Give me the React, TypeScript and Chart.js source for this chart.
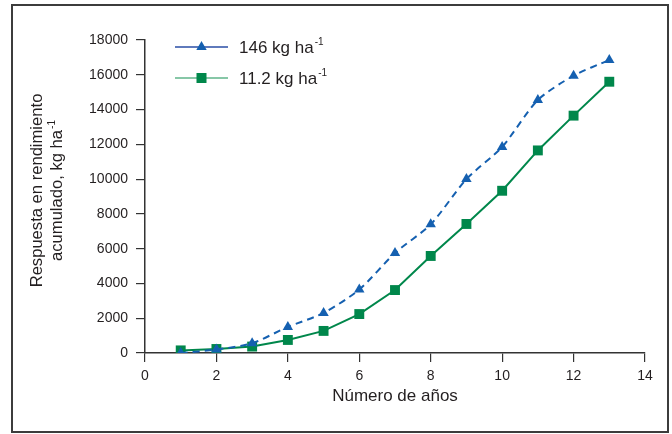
import React, { useEffect, useRef } from "react";
import { Chart, registerables } from "chart.js";

Chart.register(...registerables);

const years = [1, 2, 3, 4, 5, 6, 7, 8, 9, 10, 11, 12, 13];
const dose146 = [0, 200, 560, 1500, 2300, 3650, 5750, 7400, 10000, 11850, 14550, 15950, 16850];
const dose112 = [150, 230, 370, 750, 1270, 2240, 3620, 5580, 7420, 9330, 11650, 13650, 15600];
const seriesLabels = ["146 kg ha", "11.2 kg ha"];
const seriesSup = ["-1", "-1"];
const xTitle = "Número de años";
const yTitleLines = ["Respuesta en rendimiento", "acumulado, kg ha"];
const yTitleSup = "-1";

const FONT = "'Liberation Sans', Arial, sans-serif";
const TEXT = "#231f20";
const BLUE = "#1560b0";
const GREEN = "#00874b";

const framePlugin = {
  id: "frame",
  beforeDraw(chart: any) {
    const ctx = chart.ctx;
    ctx.save();
    ctx.fillStyle = "#ffffff";
    ctx.fillRect(0, 0, chart.width, chart.height);
    ctx.strokeStyle = "#3c3c3c";
    ctx.lineWidth = 2;
    ctx.strokeRect(12, 5, 656, 427);
    ctx.restore();
  },
};

const yTitlePlugin = {
  id: "yTitle",
  afterDraw(chart: any) {
    const ctx = chart.ctx;
    const ca = chart.chartArea;
    const cy = (ca.top + ca.bottom) / 2 - 6;
    ctx.save();
    ctx.fillStyle = TEXT;
    ctx.textBaseline = "middle";
    ctx.translate(37, cy);
    ctx.rotate(-Math.PI / 2);
    ctx.font = `16.6px ${FONT}`;
    ctx.textAlign = "center";
    ctx.fillText(yTitleLines[0], 0, 0);
    const w2 = ctx.measureText(yTitleLines[1]).width;
    ctx.font = `10px ${FONT}`;
    const ws = ctx.measureText(yTitleSup).width;
    const total = w2 + 1 + ws;
    const start = -total / 2;
    ctx.textAlign = "left";
    ctx.font = `16.6px ${FONT}`;
    ctx.fillText(yTitleLines[1], start, 20);
    ctx.font = `10px ${FONT}`;
    ctx.fillText(yTitleSup, start + w2 + 1, 15);
    ctx.restore();
  },
};

const legendPlugin = {
  id: "customLegend",
  afterDraw(chart: any) {
    const ctx = chart.ctx;
    const ca = chart.chartArea;
    const x0 = ca.left + 30;
    const x1 = ca.left + 83;
    const rows = [ca.top + 7, ca.top + 38];
    const lineColors = ["#2a4ea6", "#5fb48a"];
    chart.data.datasets.forEach((ds: any, i: number) => {
      const y = rows[i];
      ctx.save();
      ctx.strokeStyle = lineColors[i];
      ctx.lineWidth = 1.6;
      ctx.beginPath();
      ctx.moveTo(x0, y);
      ctx.lineTo(x1, y);
      ctx.stroke();
      ctx.fillStyle = ds.pointBackgroundColor;
      const cx = (x0 + x1) / 2;
      if (ds.pointStyle === "triangle") {
        const r = 6;
        ctx.beginPath();
        ctx.moveTo(cx, y - r);
        ctx.lineTo(cx + r * 0.866, y + r * 0.5);
        ctx.lineTo(cx - r * 0.866, y + r * 0.5);
        ctx.closePath();
        ctx.fill();
      } else {
        ctx.fillRect(cx - 5, y - 5, 10, 10);
      }
      ctx.fillStyle = TEXT;
      ctx.font = `17px ${FONT}`;
      ctx.textBaseline = "middle";
      ctx.textAlign = "left";
      const tx = x1 + 11;
      ctx.fillText(seriesLabels[i], tx, y + 1);
      const w = ctx.measureText(seriesLabels[i]).width;
      ctx.font = `10px ${FONT}`;
      ctx.fillText(seriesSup[i], tx + w + 1, y - 5);
      ctx.restore();
    });
  },
};

export default function App() {
  const ref = useRef<HTMLCanvasElement | null>(null);

  useEffect(() => {
    if (!ref.current) return;
    const chart = new Chart(ref.current, {
      type: "line",
      data: {
        labels: years,
        datasets: [
          {
            label: seriesLabels[0] + "⁻¹",
            data: years.map((x, i) => ({ x, y: dose146[i] })),
            borderColor: BLUE,
            backgroundColor: BLUE,
            pointBackgroundColor: BLUE,
            pointBorderColor: BLUE,
            borderWidth: 2,
            borderDash: [7, 5],
            pointStyle: "triangle",
            pointRadius: 6,
            pointBorderWidth: 0,
            tension: 0.25,
          },
          {
            label: seriesLabels[1] + "⁻¹",
            data: years.map((x, i) => ({ x, y: dose112[i] })),
            borderColor: GREEN,
            backgroundColor: GREEN,
            pointBackgroundColor: GREEN,
            pointBorderColor: GREEN,
            borderWidth: 2,
            pointStyle: "rect",
            pointRadius: 7,
            pointBorderWidth: 0,
            tension: 0,
          },
        ],
      },
      options: {
        animation: false,
        responsive: false,
        devicePixelRatio: 1,
        layout: { padding: { top: 40, right: 27, left: 0, bottom: 0 } },
        plugins: { legend: { display: false }, tooltip: { enabled: false } },
        scales: {
          x: {
            type: "linear",
            min: 0,
            max: 14,
            afterFit: (s: any) => {
              s.height = 81;
            },
            grid: { drawOnChartArea: false, drawTicks: true, tickLength: 9, color: "#333", lineWidth: 1.2 },
            border: { color: "#333", width: 1.5 },
            ticks: {
              stepSize: 2,
              padding: 6,
              color: TEXT,
              font: { family: FONT, size: 14 },
              callback: (v: any) => String(v),
            },
            title: {
              display: true,
              text: xTitle,
              color: TEXT,
              font: { family: FONT, size: 17 },
              padding: { top: 0, bottom: 27 },
            },
          },
          y: {
            min: 0,
            max: 18000,
            afterFit: (s: any) => {
              s.width = 145;
            },
            grid: { drawOnChartArea: false, drawTicks: true, tickLength: 9, color: "#333", lineWidth: 1.2 },
            border: { color: "#333", width: 1.5 },
            ticks: {
              stepSize: 2000,
              padding: 8,
              color: TEXT,
              font: { family: FONT, size: 14 },
              callback: (v: any) => String(v),
            },
            title: { display: false },
          },
        },
      },
      plugins: [framePlugin, yTitlePlugin, legendPlugin],
    } as any);
    return () => chart.destroy();
  }, []);

  return (
    <div style={{ position: "fixed", left: 0, top: 0, width: 672, height: 434 }}>
      <canvas ref={ref} width={672} height={434} />
    </div>
  );
}
